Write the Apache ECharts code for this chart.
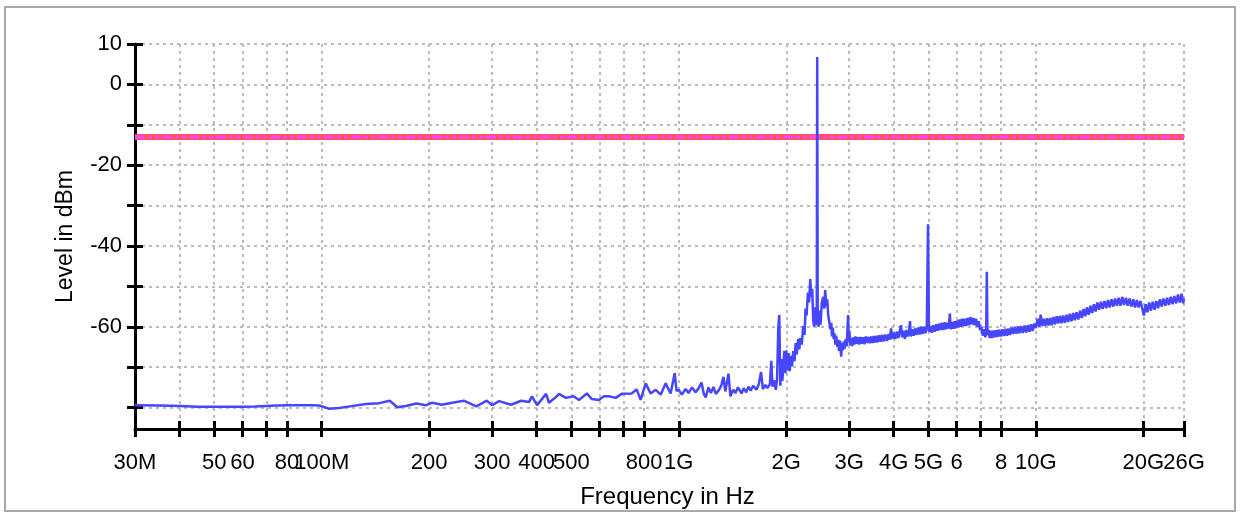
<!DOCTYPE html>
<html>
<head>
<meta charset="utf-8">
<script src="https://cdn.jsdelivr.net/npm/echarts@6/dist/echarts.min.js"></script>
<style>
  html, body { margin: 0; padding: 0; background: #fff; }
  #chart { width: 1241px; height: 514px; }
</style>
</head>
<body>
<div id="chart"></div>
<script>
// Measured spectrum: frequency in MHz, level in dBm
const freqMHz = [
  30, 35, 40, 45, 50, 55, 60, 65, 70, 75, 80, 87, 94, 98.6,
  105, 112, 120, 133, 145, 155, 163, 172, 184, 196, 204, 217, 232, 250, 271, 290,
  300, 314, 339, 362, 381, 388, 401, 425, 433, 453, 462, 483, 508, 525, 553, 571,
  597, 617, 637, 666, 692, 738, 762, 782, 808, 834, 862, 890, 919, 949, 974, 986,
  1000, 1020, 1045, 1065, 1090, 1114, 1135, 1158, 1175, 1190, 1211, 1230, 1251, 1270,
  1292, 1315, 1334, 1350, 1378, 1395, 1420, 1441, 1465, 1498, 1520, 1545, 1567, 1590,
  1615, 1650, 1675, 1700, 1720, 1748, 1770, 1800, 1816, 1830, 1850, 1870, 1885, 1900,
  1912, 1925, 1940, 1950, 1962, 1975, 1990, 2000, 2015, 2030, 2045, 2060, 2075, 2093,
  2110, 2125, 2140, 2160, 2175, 2190, 2210, 2232, 2250, 2265, 2280, 2300, 2318, 2335,
  2350, 2365, 2380, 2395, 2410, 2425, 2435, 2442, 2450, 2465, 2480, 2495, 2515, 2538,
  2555, 2571, 2590, 2605,
  2621, 2640, 2660, 2675, 2685, 2700, 2715, 2730, 2745, 2760, 2780, 2795, 2810, 2830,
  2850, 2865, 2885, 2900, 2915, 2935, 2955, 2970, 2981, 2992, 3005, 3020, 3040, 3060,
  3080, 3100, 3125, 3150, 3175, 3200, 3225, 3250, 3280, 3310, 3340, 3370, 3400, 3430,
  3460, 3490, 3520, 3550, 3580, 3610, 3645, 3680, 3715, 3750, 3790, 3830, 3870, 3900,
  3932, 3960, 4000, 4040, 4080, 4120, 4160, 4192, 4220, 4260, 4300, 4340, 4380, 4420,
  4442, 4465, 4500, 4545, 4590, 4635, 4680, 4725, 4770, 4815, 4860, 4905, 4950, 4990,
  5020, 5060, 5110, 5160, 5210, 5260, 5310, 5360, 5410, 5460, 5510, 5560, 5610, 5660,
  5700, 5745, 5775, 5820, 5870, 5920, 5970, 6020, 6070, 6120, 6170, 6220, 6270, 6320,
  6380, 6440, 6500, 6560, 6620, 6680, 6740, 6800, 6860, 6920, 6980, 7040, 7100, 7160,
  7220, 7260, 7290, 7320, 7370, 7430, 7490, 7550, 7620, 7690, 7760, 7830, 7900, 7980,
  8060, 8140, 8220, 8300, 8380, 8460, 8550, 8640, 8730, 8820, 8910, 9000, 9100, 9200,
  9300, 9400, 9500, 9600, 9700, 9800, 9900, 10000, 10119, 10220, 10318, 10420, 10530, 10640,
  10750, 10860, 10970, 11080, 11200, 11320, 11440, 11560, 11680, 11800, 11930, 12060, 12190, 12320,
  12450, 12580, 12720, 12860, 13000, 13150, 13300, 13450, 13600, 13750, 13900, 14060, 14220, 14380,
  14540, 14700, 14870, 15040, 15210, 15380, 15560, 15740, 15920, 16100, 16290, 16480, 16670, 16860,
  17060, 17260, 17460, 17670, 17880, 18090, 18300, 18520, 18740, 18960, 19180, 19400, 19630, 19860,
  20080, 20300, 20530, 20770, 21010, 21250, 21500, 21750, 22000, 22260, 22520, 22780, 23050, 23320,
  23590, 23870, 24150, 24430, 24720, 25010, 25300, 25600, 25850, 26000
];
const levelDbm = [
  -79.4, -79.5, -79.6, -79.8, -79.8, -79.8, -79.8, -79.7, -79.6, -79.5, -79.4, -79.4, -79.4, -79.5,
  -80.3, -80.1, -79.7, -79.1, -78.9, -78.3, -79.9, -79.6, -79.0, -79.4, -78.8, -79.3, -78.8, -78.3, -79.7, -78.3,
  -79.4, -78.4, -79.3, -78.3, -78.6, -77.2, -79.4, -76.6, -78.8, -77.4, -76.6, -77.6, -77.2, -78.1, -76.5, -77.9,
  -78.1, -77.2, -77.2, -77.6, -76.6, -76.5, -75.5, -78.1, -74.0, -76.5, -75.6, -76.8, -74.0, -76.5, -71.5, -75.9,
  -75.6, -76.8, -75.4, -76.4, -75.0, -76.2, -75.3, -73.8, -76.6, -77.5, -75.0, -76.4, -74.9, -76.6,
  -75.8, -74.6, -72.4, -76.0, -71.6, -77.2, -75.6, -76.4, -75.0, -76.5, -75.2, -76.2, -74.8, -75.8,
  -74.6, -75.6, -74.2, -71.2, -75.4, -74.4, -75.2, -74.2, -68.4, -74.8, -73.2, -75.6, -73.0, -60.1,
  -57.1, -74.6, -68.0, -73.4, -70.2, -66.0, -71.5, -65.8, -70.8, -66.5, -71.0, -67.2, -69.8, -66.0,
  -68.5, -64.0, -66.8, -63.0, -65.6, -62.8, -64.4, -59.8, -62.0, -55.5, -57.2, -51.5, -54.0, -48.2,
  -52.5, -50.6, -58.5, -60.0, -55.2, -59.6, -58.0, 6.8, -58.2, -60.0, -56.0, -59.5, -54.0, -52.6,
  -55.5, -50.9, -55.0, -53.2,
  -57.1, -58.8, -60.6, -59.0, -62.4, -60.2, -63.0, -61.6, -64.4, -62.2, -65.0, -63.2, -66.0, -63.4,
  -67.4, -64.0, -65.8, -63.6, -65.4, -63.0, -64.8, -60.0, -57.1, -63.8, -61.0, -64.6, -62.8, -64.8,
  -62.6, -64.4, -62.4, -64.2, -62.6, -64.4, -62.5, -64.2, -62.6, -64.3, -62.4, -64.0, -62.5, -64.1,
  -62.4, -64.0, -62.3, -63.9, -62.2, -63.8, -62.1, -63.7, -62.0, -63.6, -61.9, -63.5, -61.8, -63.2,
  -60.4, -63.0, -61.4, -63.0, -61.2, -62.8, -61.0, -59.6, -62.6, -61.0, -63.0, -60.8, -62.4, -60.8,
  -58.6, -62.4, -60.6, -62.2, -60.4, -62.0, -60.2, -61.9, -60.0, -61.8, -59.9, -61.6, -60.2, -34.6,
  -61.2, -59.8, -61.5, -59.6, -61.2, -59.4, -61.0, -59.2, -60.8, -59.0, -60.8, -58.9, -60.6, -59.0,
  -60.4, -56.7, -60.6, -58.8, -60.5, -58.6, -60.4, -58.4, -60.2, -58.2, -60.0, -58.0, -59.8, -58.0,
  -59.8, -57.8, -59.6, -57.6, -59.4, -57.8, -59.6, -58.0, -60.0, -58.6, -60.8, -60.0, -62.2, -60.6,
  -62.6, -61.0, -46.4, -62.0, -60.8, -62.8, -61.0, -62.8, -60.9, -62.6, -60.8, -62.5, -60.7, -62.4,
  -60.6, -62.3, -60.5, -62.2, -60.4, -62.0, -60.2, -61.8, -60.0, -61.7, -59.9, -61.6, -59.8, -61.5,
  -59.7, -61.4, -59.6, -61.2, -59.4, -61.0, -59.2, -60.3, -58.0, -60.0, -57.0, -59.8, -58.0, -59.8,
  -57.9, -59.7, -57.8, -59.6, -57.6, -59.4, -57.4, -59.2, -57.3, -59.1, -57.2, -59.0, -57.0, -58.8,
  -56.8, -58.6, -56.6, -58.4, -56.4, -58.2, -56.0, -57.8, -55.6, -57.4, -55.2, -57.0, -54.8, -56.6,
  -54.4, -56.2, -54.0, -55.8, -53.8, -55.6, -53.6, -55.4, -53.4, -55.2, -53.2, -55.0, -53.0, -54.8,
  -52.8, -54.8, -52.6, -54.6, -52.8, -54.8, -53.0, -55.0, -53.2, -55.2, -53.4, -55.2, -53.6, -55.4,
  -57.2, -54.4, -56.4, -54.0, -56.0, -53.8, -55.8, -53.6, -55.4, -53.2, -55.0, -53.0, -54.8, -52.8,
  -54.6, -52.6, -54.4, -52.4, -54.2, -52.0, -54.0, -51.8, -54.2, -53.0
];

// Limit line
const limitFreqMHz = [30, 26000];
const limitDbm = [-13, -13];

// Axis ticks and labels
const xTickValues = [30, 40, 50, 60, 70, 80, 100, 200, 300, 400, 500, 600, 700, 800,
  1000, 2000, 3000, 4000, 5000, 6000, 7000, 8000, 10000, 20000, 26000];
const xLabelValues = [30, 50, 60, 80, 100, 200, 300, 400, 500, 800,
  1000, 2000, 3000, 4000, 5000, 6000, 8000, 10000, 20000];
const xLabelTexts = ['30M', '50', '60', '80', '100M', '200', '300', '400', '500', '800',
  '1G', '2G', '3G', '4G', '5G', '6', '8', '10G', '20G'];
// end-of-span label, placed by its own axis so it is kept next to "20G"
const xEndLabelValues = [26000];
const xEndLabelTexts = ['26G'];
const yTickValues = [-80, -70, -60, -50, -40, -30, -20, -10, 0, 10];
const yLabelValues = [10, 0, -20, -40, -60];

const FONT = "'Liberation Sans', Arial, sans-serif";
const gridDots = { color: '#bcbcbc', width: 2, type: [3, 4] };
const tickStyle = { color: '#000', width: 3 };
const labelFont = { fontSize: 22, color: '#000', fontFamily: FONT };

function lookup(values, texts) {
  return function (v) {
    for (let i = 0; i < values.length; i++) {
      if (Math.abs(v - values[i]) / values[i] < 1e-6) return texts[i];
    }
    return '';
  };
}

const chart = echarts.init(document.getElementById('chart'), null, { renderer: 'canvas' });

chart.setOption({
  animation: false,
  backgroundColor: '#fff',
  graphic: [{
    type: 'rect',
    shape: { x: 5, y: 7, width: 1230, height: 504 },
    style: { fill: 'none', stroke: '#a8a8a8', lineWidth: 2 },
    silent: true
  }],
  grid: { left: 135, right: 57, top: 44, bottom: 85, containLabel: false, outerBoundsMode: 'none' },
  xAxis: [{
    type: 'log', logBase: 10, min: 30, max: 26000, position: 'bottom',
    axisLine: { show: true, onZero: false, lineStyle: { color: '#000', width: 3 } },
    axisTick: { show: true, customValues: xTickValues, length: 8, lineStyle: tickStyle },
    axisLabel: Object.assign({ customValues: xLabelValues, formatter: lookup(xLabelValues, xLabelTexts),
      margin: 23, showMinLabel: true, showMaxLabel: true, hideOverlap: false }, labelFont),
    splitLine: { show: true, lineStyle: gridDots },
    minorTick: { show: false },
    name: 'Frequency in Hz', nameLocation: 'middle', nameGap: 56,
    nameTextStyle: { fontSize: 24, color: '#000', fontFamily: FONT, padding: [0, 0, 0, 16] }
  }, {
    type: 'log', logBase: 10, min: 30, max: 26000, position: 'bottom',
    axisLine: { show: false, onZero: false },
    axisTick: { show: true, inside: true, customValues: xTickValues, length: 8, lineStyle: tickStyle },
    axisLabel: Object.assign({ customValues: xEndLabelValues, formatter: lookup(xEndLabelValues, xEndLabelTexts),
      margin: 23, showMinLabel: true, showMaxLabel: true, hideOverlap: false }, labelFont),
    splitLine: { show: false }
  }],
  yAxis: [{
    type: 'value', min: -85.3, max: 10, position: 'left',
    axisLine: { show: true, onZero: false, lineStyle: { color: '#000', width: 3 } },
    axisTick: { show: true, customValues: yTickValues, length: 8, lineStyle: tickStyle },
    axisLabel: Object.assign({ customValues: yLabelValues, margin: 13,
      showMinLabel: true, showMaxLabel: true }, labelFont),
    splitLine: { show: true, lineStyle: gridDots },
    name: 'Level in dBm', nameLocation: 'middle', nameGap: 58, nameRotate: 90,
    nameTextStyle: { fontSize: 23, color: '#000', fontFamily: FONT }
  }, {
    type: 'value', min: -85.3, max: 10, position: 'left',
    axisLine: { show: false, onZero: false },
    axisTick: { show: true, inside: true, customValues: yTickValues, length: 8, lineStyle: tickStyle },
    axisLabel: { show: false },
    splitLine: { show: false }
  }],
  series: [{
    type: 'line', xAxisIndex: 0, yAxisIndex: 0, showSymbol: false, silent: true,
    data: limitFreqMHz.map((f, i) => [f, limitDbm[i]]),
    lineStyle: { color: '#ff5252', width: 6 }
  }, {
    type: 'line', xAxisIndex: 0, yAxisIndex: 0, showSymbol: false, silent: true,
    data: limitFreqMHz.map((f, i) => [f, limitDbm[i]]),
    lineStyle: { color: '#ff44ff', width: 3.5, type: [10, 3, 4, 3, 4, 3] }
  }, {
    type: 'line', xAxisIndex: 0, yAxisIndex: 0, showSymbol: false, silent: true,
    data: freqMHz.map((f, i) => [f, levelDbm[i]]),
    lineStyle: { color: '#4646ff', width: 2.5 }
  }]
});
</script>
</body>
</html>
